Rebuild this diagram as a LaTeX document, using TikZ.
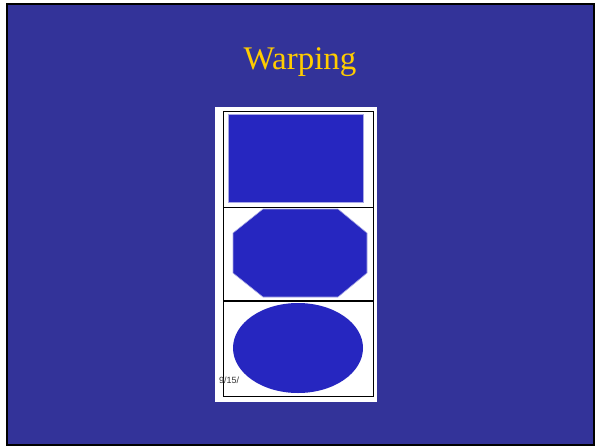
\documentclass[tikz,border=0pt]{standalone}
\usepackage{fontspec}
\setmainfont{Liberation Serif}
\newfontfamily\arialfont{Liberation Sans}
\definecolor{slidebg}{HTML}{333399}
\definecolor{shapeblue}{HTML}{2626C0}
\definecolor{titleyellow}{HTML}{FFCC00}
\begin{document}
\begin{tikzpicture}[x=1pt,y=-1pt,
  shapefill/.style={fill=shapeblue, draw=shapeblue!40!white, line width=0.6pt},
  frameline/.style={draw=black, line width=1pt}]
\useasboundingbox (0,0) rectangle (596,447);
\fill[white] (0,0) rectangle (596,447);
\fill[slidebg] (7,4) rectangle (594,445);
\draw[black, line width=2pt] (7,4) rectangle (594,445);
\node[text=titleyellow, font=\fontsize{33}{36}\selectfont, anchor=base] (title) at (300,69) {Warping};
% image
\fill[white] (215,107) rectangle (377,402);
\draw[frameline] (223,111) rectangle (373,396);
\draw[frameline] (223,207) -- (373,207);
\draw[black, line width=1.5pt] (223,301) -- (373,301);
\fill[shapefill] (228,114) rectangle (363,202);
\fill[shapefill] (263,209) -- (338,209) -- (367,233) -- (367,273) -- (338,297) -- (263,297) -- (233,273) -- (233,233) -- cycle;
\node[anchor=base west, inner sep=0pt, text=black!80, font=\arialfont\fontsize{9}{10}\selectfont] (date) at (219,383) {9/15/};
\fill[shapeblue] (298,348) ellipse [x radius=65, y radius=45];
\end{tikzpicture}
\end{document}
